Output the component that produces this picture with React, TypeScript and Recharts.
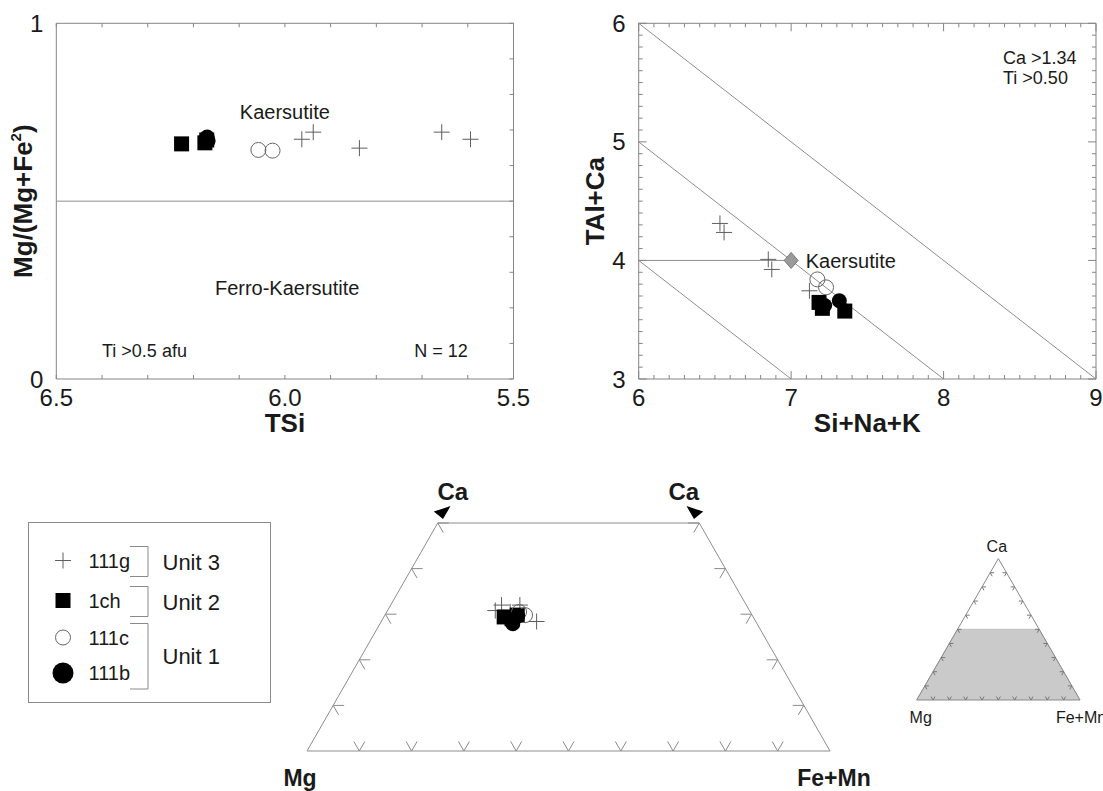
import React from "react";
import {
  ScatterChart,
  ComposedChart,
  Scatter,
  Area,
  XAxis,
  YAxis,
  ReferenceLine,
  ReferenceArea,
  ReferenceDot,
  Label,
  Legend,
} from "recharts";

// sample groups, in legend order
const legendOrder = ["111g", "1ch", "111c", "111b"];
const units = [
  { label: "Unit 3", samples: ["111g"] },
  { label: "Unit 2", samples: ["1ch"] },
  { label: "Unit 1", samples: ["111c", "111b"] },
];

// TSi vs Mg/(Mg+Fe2)
const tsi111g = [5.963, 5.938, 5.837, 5.657, 5.594];
const mgNo111g = [0.674, 0.694, 0.649, 0.694, 0.674];
const tsi1ch = [6.226, 6.175, 6.171];
const mgNo1ch = [0.661, 0.664, 0.672];
const tsi111c = [6.058, 6.027];
const mgNo111c = [0.644, 0.642];
const tsi111b = [6.17, 6.168];
const mgNo111b = [0.68, 0.67];

// Si+Na+K vs TAl+Ca
const sum111g = [6.533, 6.56, 6.85, 6.873, 7.12];
const tal111g = [4.312, 4.236, 4.009, 3.924, 3.744];
const sum1ch = [7.183, 7.205, 7.352];
const tal1ch = [3.646, 3.596, 3.573];
const sum111c = [7.172, 7.229];
const tal111c = [3.84, 3.773];
const sum111b = [7.316, 7.22];
const tal111b = [3.66, 3.62];

// Ca - Mg - (Fe+Mn) proportions
const ca111g = [0.32, 0.308, 0.32, 0.284, 0.305];
const mg111g = [0.468, 0.486, 0.433, 0.419, 0.459];
const fe111g = [0.212, 0.206, 0.247, 0.297, 0.236];
const ca1ch = [0.294, 0.29, 0.298];
const mg1ch = [0.476, 0.463, 0.449];
const fe1ch = [0.23, 0.247, 0.253];
const ca111c = [0.298, 0.305];
const mg111c = [0.434, 0.442];
const fe111c = [0.268, 0.253];
const ca111b = [0.279, 0.296];
const mg111b = [0.467, 0.449];
const fe111b = [0.254, 0.255];

// tick values
const steps = (from: number, to: number, step: number) => {
  const out: number[] = [];
  const n = Math.round((to - from) / step);
  for (let i = 0; i <= n; i++) out.push(Math.round((from + i * step) * 1000) / 1000);
  return out;
};
const tsiTicks = steps(5.5, 6.5, 0.1);
const tsiLabels = [6.5, 6.0, 5.5];
const mgTicks = steps(0, 1, 0.1);
const mgLabels = [0, 1];
const sumTicks = steps(6, 9, 0.1);
const sumLabels = [6, 7, 8, 9];
const talTicks = steps(3, 6, 0.1);
const talLabels = [3, 4, 5, 6];
const ternFractions = steps(0.1, 0.9, 0.1);
const sideFractions = steps(0.1, 0.5, 0.1);

// Kaersutite field lines in Si+Na+K / TAl+Ca
const fieldLines = [
  [{ x: 6, y: 6 }, { x: 9, y: 3 }],
  [{ x: 6, y: 5 }, { x: 8, y: 3 }],
  [{ x: 6, y: 4 }, { x: 7, y: 3 }],
  [{ x: 6, y: 4 }, { x: 7, y: 4 }],
];
const kaersutiteEnd = [{ x: 7, y: 4 }];

const AXIS = "#858585";
const LINE = "#8e8e8e";
const TEXT = "#1a1a1a";

const zip = (xs: number[], ys: number[]) => xs.map((x, i) => ({ x, y: ys[i] }));
const tern = (ca: number, mg: number, fe: number) => {
  const s = ca + mg + fe;
  return { x: (fe + ca / 2) / s, y: ca / s };
};
const ternRows = (ca: number[], mg: number[], fe: number[]) => ca.map((c, i) => tern(c, mg[i], fe[i]));

const series1 = [
  { name: "111g", data: zip(tsi111g, mgNo111g) },
  { name: "1ch", data: zip(tsi1ch, mgNo1ch) },
  { name: "111c", data: zip(tsi111c, mgNo111c) },
  { name: "111b", data: zip(tsi111b, mgNo111b) },
];
const series2 = [
  { name: "111g", data: zip(sum111g, tal111g) },
  { name: "1ch", data: zip(sum1ch, tal1ch) },
  { name: "111c", data: zip(sum111c, tal111c) },
  { name: "111b", data: zip(sum111b, tal111b) },
];
const series3 = [
  { name: "111g", data: ternRows(ca111g, mg111g, fe111g) },
  { name: "1ch", data: ternRows(ca1ch, mg1ch, fe1ch) },
  { name: "111c", data: ternRows(ca111c, mg111c, fe111c) },
  { name: "111b", data: ternRows(ca111b, mg111b, fe111b) },
];

function Marker({ name, cx, cy, big = false }: any) {
  if (name === "111g")
    return <path d={`M${cx - 8},${cy}H${cx + 8}M${cx},${cy - 8}V${cy + 8}`} stroke="#5e5e5e" strokeWidth={1} fill="none" />;
  if (name === "1ch") return <rect x={cx - 7.5} y={cy - 7.5} width={15} height={15} fill="#000" />;
  if (name === "111c") return <circle cx={cx} cy={cy} r={7.5} fill="none" stroke="#666" strokeWidth={1} />;
  return <circle cx={cx} cy={cy} r={big ? 10.5 : 7.5} fill="#000" />;
}

const near = (arr: number[], v: number) => arr.some((a) => Math.abs(a - v) < 1e-6);

// inward ticks on bottom + top, labels under the bottom axis
function bottomTick(plotH: number, labels: number[], majors: number[], digits: number) {
  return (props: any) => {
    const { x, y, payload } = props;
    const v = payload.value;
    const len = near(majors, v) ? 8 : 4;
    return (
      <g>
        <line x1={x} y1={y} x2={x} y2={y - len} stroke={AXIS} />
        <line x1={x} y1={y - plotH} x2={x} y2={y - plotH + len} stroke={AXIS} />
        {near(labels, v) && (
          <text x={x} y={y + 27} textAnchor="middle" fontSize={24} fill={TEXT}>
            {v.toFixed(digits)}
          </text>
        )}
      </g>
    );
  };
}

// inward ticks on the right (and optionally left), labels left of the axis
function leftTick(plotW: number, labels: number[], majors: number[], both: boolean) {
  return (props: any) => {
    const { x, y, payload } = props;
    const v = payload.value;
    const len = near(majors, v) ? 8 : 4;
    return (
      <g>
        {both && <line x1={x} y1={y} x2={x + len} y2={y} stroke={AXIS} />}
        <line x1={x + plotW} y1={y} x2={x + plotW - len} y2={y} stroke={AXIS} />
        {near(labels, v) && (
          <text x={x - 13} y={y + 8.5} textAnchor="end" fontSize={24} fill={TEXT}>
            {String(v)}
          </text>
        )}
      </g>
    );
  };
}

function note(key: string, x: number, y: number, text: string, anchor: string, size: number, bold = false, dx = 0, dy = 0) {
  return (
    <ReferenceDot
      key={key}
      x={x}
      y={y}
      ifOverflow="visible"
      shape={(p: any) => (
        <text
          x={p.cx + dx}
          y={p.cy + dy + size * 0.36}
          textAnchor={anchor}
          fontSize={size}
          fontWeight={bold ? "bold" : "normal"}
          fill={TEXT}
        >
          {text}
        </text>
      )}
    />
  );
}

// ternary edge ticks: two short strokes along the other grid directions
const ARMS: Record<string, number[][]> = {
  bottom: [[-0.5, -0.866], [0.5, -0.866]],
  left: [[1, 0], [0.5, 0.866]],
  right: [[-1, 0], [-0.5, 0.866]],
};
const ternTick = (len: number, color: string) => (p: any) => (
  <path
    d={ARMS[p.payload.edge].map(([dx, dy]) => `M${p.cx},${p.cy}l${dx * len},${dy * len}`).join("")}
    stroke={color}
    fill="none"
  />
);

const corners = {
  mg: tern(0, 1, 0),
  fe: tern(0, 0, 1),
  ca: tern(1, 0, 0),
  caL: tern(0.5, 0.5, 0),
  caR: tern(0.5, 0, 0.5),
};
const trapezoidEdges = [
  [corners.mg, corners.fe],
  [corners.mg, corners.caL],
  [corners.caL, corners.caR],
  [corners.caR, corners.fe],
];
const triangleEdges = [
  [corners.mg, corners.fe],
  [corners.mg, corners.ca],
  [corners.ca, corners.fe],
];
const insetShade = [corners.mg, corners.caL, corners.caR, corners.fe];

const trapTickRows = [
  ...ternFractions.map((f) => ({ ...tern(0, 1 - f, f), edge: "bottom" })),
  ...sideFractions.map((f) => ({ ...tern(f, 1 - f, 0), edge: "left" })),
  ...sideFractions.map((f) => ({ ...tern(f, 0, 1 - f), edge: "right" })),
];
const insetTickRows = [
  ...ternFractions.map((f) => ({ ...tern(0, 1 - f, f), edge: "bottom" })),
  ...ternFractions.map((f) => ({ ...tern(f, 1 - f, 0), edge: "left" })),
  ...ternFractions.map((f) => ({ ...tern(f, 0, 1 - f), edge: "right" })),
];
const arrowRows = [
  { ...corners.caL, side: -1 },
  { ...corners.caR, side: 1 },
];

// arrowhead on the edge extension past the Ca = 0.5 cut, pointing outwards
const arrowShape = (p: any) => {
  const s = p.payload.side;
  const ex = -s * 0.5;
  const ey = -0.866;
  const bx = p.cx + ex * 12 - s * 3;
  const by = p.cy + ey * 12;
  const tx = bx + s * 13;
  const ty = by - 1;
  return (
    <path
      d={`M${bx - ex * 7.5},${by - ey * 7.5}L${bx + ex * 7.5},${by + ey * 7.5}L${tx},${ty}Z`}
      fill="#000"
    />
  );
};

function LegendBox({ payload }: any) {
  const rowY = [38.5, 78.5, 115.5, 151];
  const present = new Set((payload || []).map((e: any) => e.value));
  const names = legendOrder.filter((n) => present.has(n));
  const rowOf = (n: string) => names.indexOf(n);
  return (
    <svg width={244} height={182} style={{ display: "block" }}>
      <rect x={0.5} y={0.5} width={242} height={180} fill="#fff" stroke="#8a8a8a" />
      {names.map((n, i) => (
        <g key={n}>
          <Marker name={n} cx={35} cy={rowY[i]} big />
          <text x={60.5} y={rowY[i] + 7} fontSize={20} fill={TEXT}>
            {n}
          </text>
        </g>
      ))}
      {units.map((u) => {
        const rows = u.samples.map(rowOf).filter((r) => r >= 0);
        if (!rows.length) return null;
        const y1 = rowY[Math.min(...rows)] - 14;
        const y2 = rowY[Math.max(...rows)] + 16;
        return (
          <g key={u.label}>
            <path d={`M102,${y1}H120V${y2}H102`} stroke="#8a8a8a" fill="none" />
            <text x={134.5} y={(y1 + y2) / 2 + 8} fontSize={22} fill={TEXT}>
              {u.label}
            </text>
          </g>
        );
      })}
    </svg>
  );
}

export default function App() {
  const p1 = { w: 540, h: 440, left: 56.3, top: 23.3, plotW: 457.2, plotH: 355.7 };
  const p2 = { w: 563, h: 440, left: 98.7, top: 23.3, plotW: 457.3, plotH: 355.7 };

  return (
    <div
      style={{
        position: "absolute",
        left: 0,
        top: 0,
        width: 1103,
        height: 791,
        background: "#fff",
        fontFamily: "'Liberation Sans', Arial, sans-serif",
        overflow: "hidden",
      }}
    >
      {/* TSi vs Mg/(Mg+Fe2) */}
      <div style={{ position: "absolute", left: 0, top: 0 }}>
        <ScatterChart
          width={p1.w}
          height={p1.h}
          margin={{ top: p1.top, left: p1.left - 1, right: p1.w - p1.left - p1.plotW, bottom: p1.h - p1.top - p1.plotH - 1 }}
        >
          <XAxis
            type="number"
            dataKey="x"
            domain={[5.5, 6.5]}
            reversed
            ticks={tsiTicks}
            interval={0}
            height={1}
            tickSize={0}
            tickMargin={0}
            tickLine={false}
            axisLine={false}
            tick={bottomTick(p1.plotH, tsiLabels, [], 1)}
          >
            <Label
              content={(lp: any) => (
                <text x={lp.viewBox.x + lp.viewBox.width / 2} y={lp.viewBox.y + 53} textAnchor="middle" fontSize={26} fontWeight="bold" fill={TEXT}>
                  TSi
                </text>
              )}
            />
          </XAxis>
          <YAxis
            type="number"
            dataKey="y"
            domain={[0, 1]}
            ticks={mgTicks}
            interval={0}
            width={1}
            tickSize={0}
            tickMargin={0}
            tickLine={false}
            axisLine={false}
            tick={leftTick(p1.plotW, mgLabels, [], false)}
          >
            <Label
              content={(lp: any) => {
                const cy = lp.viewBox.y + lp.viewBox.height / 2;
                return (
                  <text x={32} y={cy} transform={`rotate(-90, 32, ${cy})`} textAnchor="middle" fontSize={26} fontWeight="bold" fill={TEXT}>
                    Mg/(Mg+Fe
                    <tspan fontSize={15} dy={-11}>2</tspan>
                    <tspan dy={11}>)</tspan>
                  </text>
                );
              }}
            />
          </YAxis>
          <ReferenceArea x1={5.5} x2={6.5} y1={0} y2={1} fill="none" stroke={AXIS} ifOverflow="visible" />
          <ReferenceLine y={0.5} stroke={LINE} />
          {series1.map((s) => (
            <Scatter
              key={s.name}
              name={s.name}
              data={s.data}
              isAnimationActive={false}
              shape={(p: any) => <Marker name={s.name} cx={p.cx} cy={p.cy} />}
            />
          ))}
          {note("k1", 6.0, 0.75, "Kaersutite", "middle", 20)}
          {note("fk", 5.995, 0.255, "Ferro-Kaersutite", "middle", 20)}
          {note("ti", 6.4, 0.079, "Ti >0.5 afu", "start", 18)}
          {note("n", 5.6, 0.079, "N = 12", "end", 18)}
        </ScatterChart>
      </div>

      {/* Si+Na+K vs TAl+Ca */}
      <div style={{ position: "absolute", left: 540, top: 0 }}>
        <ScatterChart
          width={p2.w}
          height={p2.h}
          margin={{ top: p2.top, left: p2.left - 1, right: p2.w - p2.left - p2.plotW, bottom: p2.h - p2.top - p2.plotH - 1 }}
        >
          <XAxis
            type="number"
            dataKey="x"
            domain={[6, 9]}
            ticks={sumTicks}
            interval={0}
            height={1}
            tickSize={0}
            tickMargin={0}
            tickLine={false}
            axisLine={false}
            tick={bottomTick(p2.plotH, sumLabels, sumLabels, 0)}
          >
            <Label
              content={(lp: any) => (
                <text x={lp.viewBox.x + lp.viewBox.width / 2} y={lp.viewBox.y + 53} textAnchor="middle" fontSize={26} fontWeight="bold" fill={TEXT}>
                  Si+Na+K
                </text>
              )}
            />
          </XAxis>
          <YAxis
            type="number"
            dataKey="y"
            domain={[3, 6]}
            ticks={talTicks}
            interval={0}
            width={1}
            tickSize={0}
            tickMargin={0}
            tickLine={false}
            axisLine={false}
            tick={leftTick(p2.plotW, talLabels, talLabels, true)}
          >
            <Label
              content={(lp: any) => {
                const cy = lp.viewBox.y + lp.viewBox.height / 2;
                return (
                  <text x={64} y={cy} transform={`rotate(-90, 64, ${cy})`} textAnchor="middle" fontSize={26} fontWeight="bold" fill={TEXT}>
                    TAl+Ca
                  </text>
                );
              }}
            />
          </YAxis>
          <ReferenceArea x1={6} x2={9} y1={3} y2={6} fill="none" stroke={AXIS} ifOverflow="visible" />
          {fieldLines.map((seg, i) => (
            <ReferenceLine key={i} segment={seg} stroke={LINE} />
          ))}
          {series2.map((s) => (
            <Scatter
              key={s.name}
              name={s.name}
              data={s.data}
              isAnimationActive={false}
              shape={(p: any) => <Marker name={s.name} cx={p.cx} cy={p.cy} />}
            />
          ))}
          <Scatter
            name="Kaersutite"
            data={kaersutiteEnd}
            isAnimationActive={false}
            legendType="none"
            shape={(p: any) => (
              <path d={`M${p.cx - 7},${p.cy}L${p.cx},${p.cy - 8}L${p.cx + 7},${p.cy}L${p.cx},${p.cy + 8}Z`} fill="#9a9a9a" stroke="#7a7a7a" />
            )}
          />
          {note("k2", 7.096, 4.0, "Kaersutite", "start", 20)}
          {note("ca", 8.39, 5.713, "Ca >1.34", "start", 18)}
          {note("ti2", 8.39, 5.545, "Ti >0.50", "start", 18)}
        </ScatterChart>
      </div>

      {/* Ca - Mg - Fe+Mn trapezoid with legend */}
      <div style={{ position: "absolute", left: 0, top: 440 }}>
        <ScatterChart width={880} height={351} margin={{ top: 83, right: 50, bottom: 40, left: 307 }}>
          <XAxis type="number" dataKey="x" domain={[0, 1]} hide />
          <YAxis type="number" dataKey="y" domain={[0, 0.5]} hide />
          {trapezoidEdges.map((seg, i) => (
            <ReferenceLine key={i} segment={seg} stroke={LINE} ifOverflow="visible" />
          ))}
          <Scatter data={trapTickRows} isAnimationActive={false} legendType="none" shape={ternTick(11, "#8a8a8a")} />
          <Scatter data={arrowRows} isAnimationActive={false} legendType="none" shape={arrowShape} />
          {series3.map((s) => (
            <Scatter
              key={s.name}
              name={s.name}
              data={s.data}
              isAnimationActive={false}
              shape={(p: any) => <Marker name={s.name} cx={p.cx} cy={p.cy} />}
            />
          ))}
          {note("caL", corners.caL.x, corners.caL.y, "Ca", "middle", 24, true, 15, -32)}
          {note("caR", corners.caR.x, corners.caR.y, "Ca", "middle", 24, true, -15.5, -32)}
          {note("mgL", corners.mg.x, corners.mg.y, "Mg", "middle", 23, true, -7, 27)}
          {note("feL", corners.fe.x, corners.fe.y, "Fe+Mn", "middle", 23, true, 4, 27)}
          <Legend
            layout="vertical"
            align="center"
            verticalAlign="middle"
            content={(lp: any) => <LegendBox payload={lp.payload} />}
            wrapperStyle={{ position: "absolute", left: 27.7, top: 82.3, width: 244, height: 182, margin: 0, padding: 0 }}
          />
        </ScatterChart>
      </div>

      {/* inset: location of the trapezoid in the full triangle */}
      <div style={{ position: "absolute", left: 880, top: 530 }}>
        <ComposedChart width={223} height={210} data={insetShade} margin={{ top: 28.6, right: 23, bottom: 40, left: 36.7 }}>
          <XAxis type="number" dataKey="x" domain={[0, 1]} hide />
          <YAxis type="number" dataKey="y" domain={[0, 1]} hide />
          <Area type="linear" dataKey="y" fill="#cacaca" fillOpacity={1} stroke="#c0c0c0" isAnimationActive={false} dot={false} activeDot={false} />
          {triangleEdges.map((seg, i) => (
            <ReferenceLine key={i} segment={seg} stroke="#8a8a8a" ifOverflow="visible" />
          ))}
          <Scatter data={insetTickRows} isAnimationActive={false} legendType="none" shape={ternTick(4, "#777")} />
          {note("ica", corners.ca.x, corners.ca.y, "Ca", "middle", 16, false, -1.5, -12.5)}
          {note("img", corners.mg.x, corners.mg.y, "Mg", "middle", 16, false, 4, 17.5)}
          {note("ife", corners.fe.x, corners.fe.y, "Fe+Mn", "middle", 16, false, 1, 17.5)}
        </ComposedChart>
      </div>
    </div>
  );
}
